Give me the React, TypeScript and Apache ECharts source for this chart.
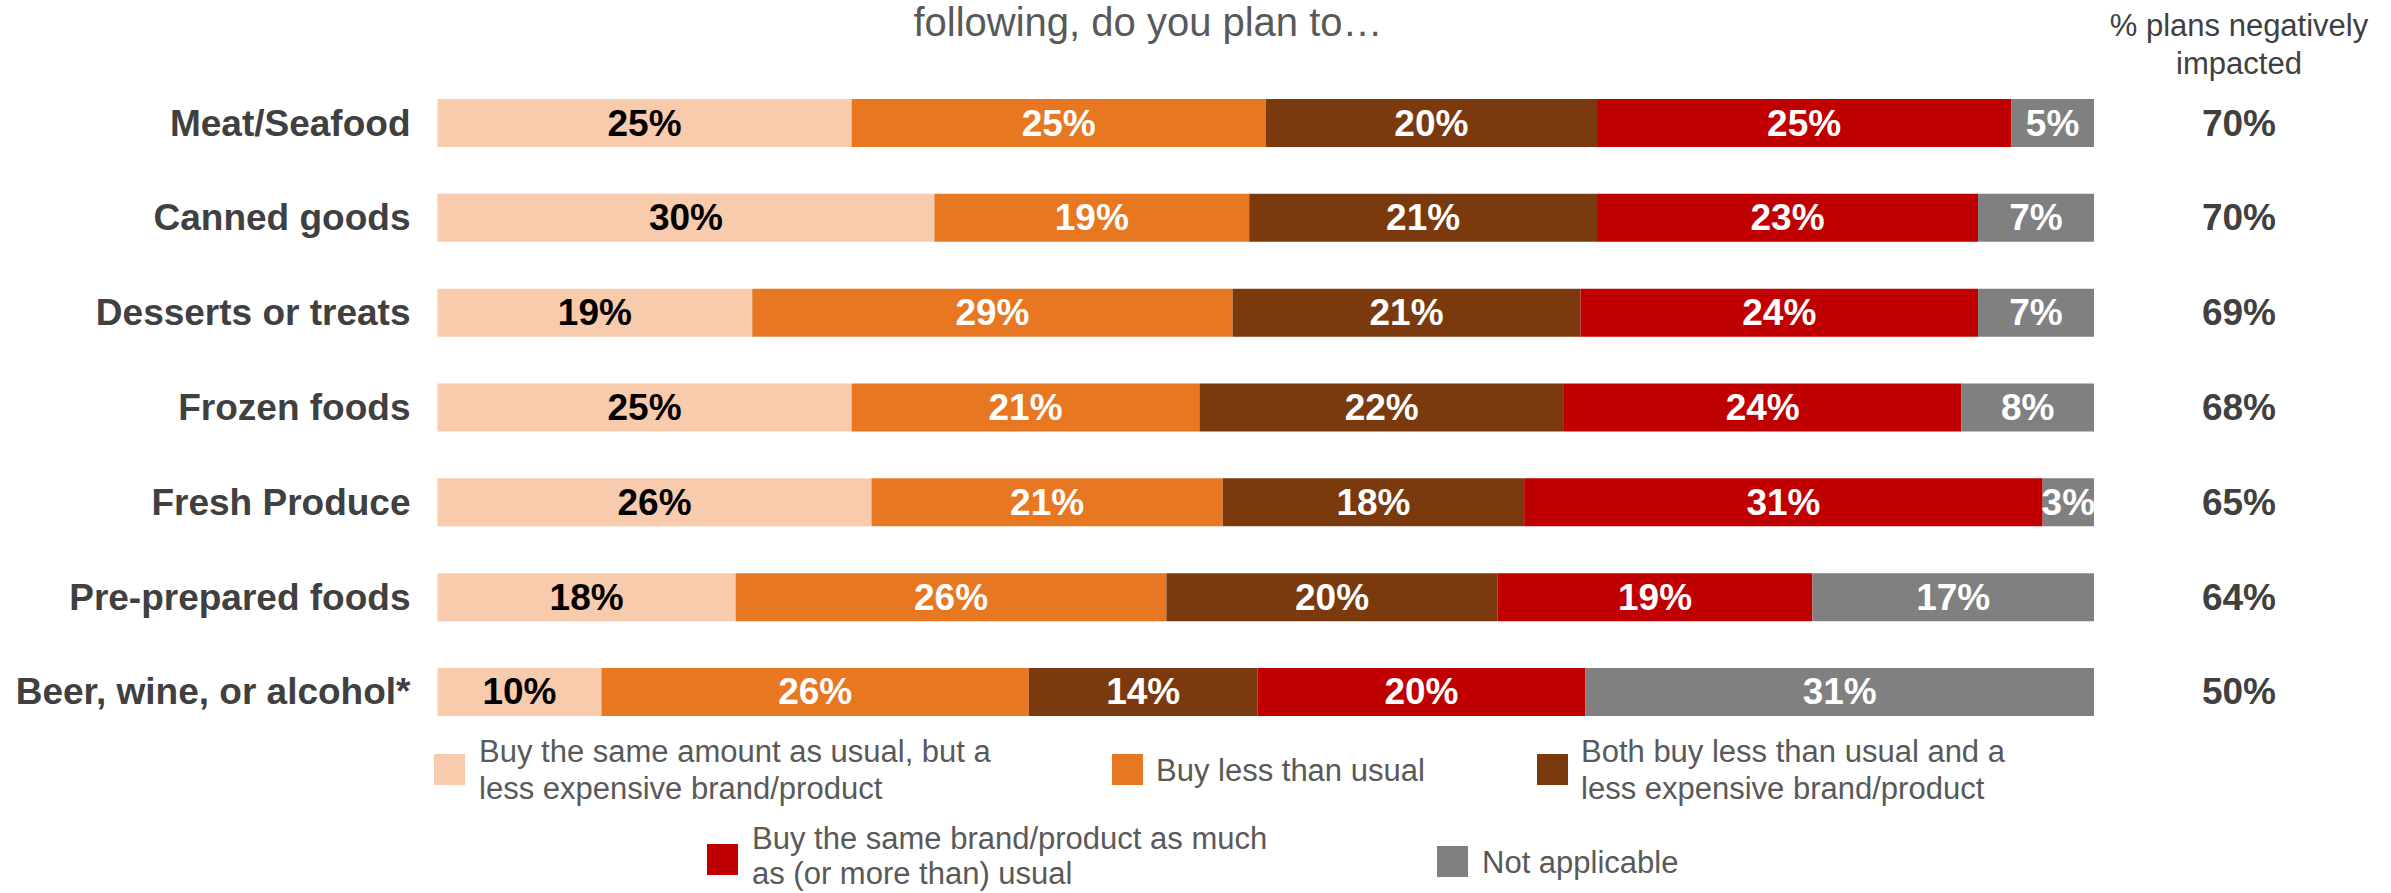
import React, { useEffect, useRef } from "react";
import * as echarts from "echarts";

const categories = [
  "Meat/Seafood",
  "Canned goods",
  "Desserts or treats",
  "Frozen foods",
  "Fresh Produce",
  "Pre-prepared foods",
  "Beer, wine, or alcohol*",
];

const seriesNames = [
  "Buy the same amount as usual, but a\nless expensive brand/product",
  "Buy less than usual",
  "Both buy less than usual and a\nless expensive brand/product",
  "Buy the same brand/product as much\nas (or more than) usual",
  "Not applicable",
];

const sameAmountCheaper = [25, 30, 19, 25, 26.2, 18, 9.9];
const buyLess = [25, 19, 29, 21, 21.2, 26, 25.8];
const bothLessAndCheaper = [20, 21, 21, 22, 18.2, 20, 13.8];
const sameOrMore = [25, 23, 24, 24, 31.3, 19, 19.8];
const notApplicable = [5, 7, 7, 8, 3.1, 17, 30.7];

const negativelyImpacted = ["70%", "70%", "69%", "68%", "65%", "64%", "50%"];

const colors = ["#F8CBAD", "#E87722", "#7A3A0E", "#C00000", "#808080"];
const labelColors = ["#000000", "#FFFFFF", "#FFFFFF", "#FFFFFF", "#FFFFFF"];

const FONT = "'Liberation Sans', Arial, Helvetica, sans-serif";

// legend layout: [squareX, squareY, textX, textCenterY, lineHeight]
const legendLayout = [
  [434, 754, 479, 770, 37],
  [1112, 754, 1156, 770, 37],
  [1537, 754, 1581, 770, 37],
  [707, 844, 752, 856, 35],
  [1437, 846, 1482, 862, 37],
];

export default function App() {
  const ref = useRef<HTMLDivElement>(null);

  useEffect(() => {
    if (!ref.current) return;
    const chart = echarts.init(ref.current, undefined, { renderer: "svg" });
    const values = [sameAmountCheaper, buyLess, bothLessAndCheaper, sameOrMore, notApplicable];

    const legendGraphics: any[] = [];
    seriesNames.forEach((name, i) => {
      const [sx, sy, tx, ty, lh] = legendLayout[i];
      legendGraphics.push({
        type: "rect",
        shape: { x: sx, y: sy, width: 31, height: 31 },
        style: { fill: colors[i] },
      });
      legendGraphics.push({
        type: "text",
        x: tx,
        y: ty,
        style: {
          text: name,
          fill: "#595959",
          fontSize: 31,
          fontFamily: FONT,
          align: "left",
          verticalAlign: "middle",
          lineHeight: lh,
        },
      });
    });

    chart.setOption({
      animation: false,
      backgroundColor: "#ffffff",
      grid: { left: 437.5, right: 297, top: 75.6, height: 663.8, containLabel: false },
      xAxis: { type: "value", min: 0, max: 100, show: false },
      yAxis: [
        {
          type: "category",
          data: categories,
          inverse: true,
          axisLine: { show: false },
          axisTick: { show: false },
          splitLine: { show: false },
          axisLabel: {
            margin: 27,
            fontSize: 37,
            fontWeight: "bold",
            fontFamily: FONT,
            color: "#404040",
          },
        },
        {
          type: "category",
          position: "right",
          data: negativelyImpacted,
          inverse: true,
          axisLine: { show: false },
          axisTick: { show: false },
          splitLine: { show: false },
          axisLabel: {
            margin: 145,
            align: "center",
            fontSize: 37,
            fontWeight: "bold",
            fontFamily: FONT,
            color: "#404040",
          },
        },
      ],
      series: values.map((v, i) => ({
        type: "bar",
        name: seriesNames[i],
        stack: "total",
        yAxisIndex: 0,
        barWidth: 48,
        data: v,
        itemStyle: { color: colors[i] },
        label: {
          show: true,
          position: "inside",
          formatter: (p: any) => Math.round(p.value) + "%",
          fontSize: 37,
          fontWeight: "bold",
          fontFamily: FONT,
          color: labelColors[i],
        },
      })),
      graphic: [
        {
          type: "text",
          x: 1148,
          y: 22,
          style: {
            text: "following, do you plan to\u2026",
            fill: "#595959",
            fontSize: 40,
            fontFamily: FONT,
            align: "center",
            verticalAlign: "middle",
          },
        },
        {
          type: "text",
          x: 2239,
          y: 44,
          style: {
            text: "% plans negatively\nimpacted",
            fill: "#404040",
            fontSize: 31,
            fontFamily: FONT,
            align: "center",
            verticalAlign: "middle",
            lineHeight: 38,
          },
        },
        ...legendGraphics,
      ],
    });

    return () => chart.dispose();
  }, []);

  return (
    <div
      ref={ref}
      style={{ position: "absolute", left: 0, top: 0, width: 2391, height: 893 }}
    />
  );
}
